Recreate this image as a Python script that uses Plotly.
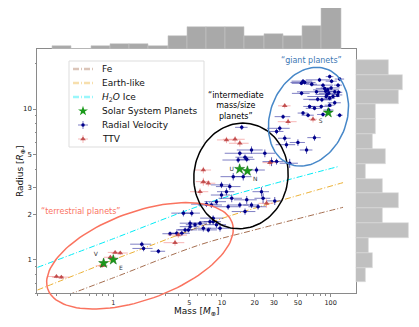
import numpy as np
import plotly.graph_objects as go

W, H = 419, 327          # browser window
OFF = 8                  # default page margin around the plot div
FW, FH = W - OFF, H - OFF
FONT = 'DejaVu Sans'

# --- composition curves (mass [M_earth], radius [R_earth]) ---
fe_mass = [0.2, 1, 6.3, 20, 130]
fe_radius = [0.49, 0.76, 1.26, 1.58, 2.23]
earth_mass = [0.2, 0.5, 1, 2, 5, 10, 20, 50, 130]
earth_radius = [0.63, 0.82, 1.0, 1.21, 1.56, 1.88, 2.20, 2.67, 3.25]
ice_mass = [0.2, 1, 4, 10, 30, 117]
ice_radius = [0.89, 1.38, 2.03, 2.56, 3.2, 4.15]

# --- solar system planets ---
ss_label = ['V', 'E', 'U', 'N', 'S']
ss_mass = [0.815, 1.0, 14.54, 17.15, 95.16]
ss_radius = [0.95, 1.0, 4.0, 3.88, 9.45]

# --- radial velocity planets ---
rv_mass = [55.7, 57.7, 53.8, 98, 121, 85, 88, 94, 96, 91, 98, 92.5, 105, 117, 74, 54, 76, 64, 71, 82,
           98, 55.7, 62, 85, 121, 36.5, 34, 31.8, 37.8, 39.2, 50, 71, 60, 42, 31.8, 101, 90, 109, 83, 109,
           118, 96, 116, 79, 67, 102,
           15.2, 18.7, 14.6, 16.3, 24.8, 28.6, 20.8, 15.7, 12.7, 14.1, 16.9, 9.9, 11.0, 9.9, 12.3, 16.9,
           8.9, 23.1, 23.9, 11.4, 14.6, 8.0, 18.7, 21.5, 11.8, 16.3, 30.6, 7.2, 4.42, 5.27, 8.3, 8.3, 8.9,
           9.6, 5.09, 6.74, 4.91, 7.49, 3.84, 5.09, 5.65, 6.28, 4.58, 4.27, 3.33, 1.83, 1.90, 2.60, 7.76]
rv_radius = [15.3, 15.0, 14.8, 16.4, 15.8, 14.4, 13.7, 13.4, 12.7, 12.1, 11.8, 12.5, 12.1, 14.4, 13.0,
             12.7, 11.6, 10.4, 10.1, 10.4, 10.6, 9.4, 9.1, 9.2, 9.1, 8.9, 7.45, 7.1, 6.4, 5.8, 6.0, 6.46,
             5.35, 4.37, 4.48, 13.8, 13.1, 13.0, 11.5, 11.0, 12.9, 9.85, 12.4, 15.6, 14.6, 15.3,
             7.56, 5.35, 5.09, 4.79, 5.09, 4.48, 3.94, 3.56, 3.56, 4.59, 4.64, 3.14, 2.83, 2.69, 2.56, 2.50,
             2.43, 2.83, 2.56, 2.25, 2.31, 2.31, 2.31, 2.25, 3.06, 2.09, 2.46, 2.34, 2.04, 2.04, 1.89, 1.79,
             1.71, 1.62, 1.66, 1.62, 1.58, 1.58, 1.50, 1.75, 1.71, 1.75, 1.58, 1.50, 1.49, 1.27, 1.19, 1.14,
             1.79]
rv_mass_err = [12, 15, 10, 8, 12, 20, 15, 25, 18, 30, 12, 20, 15, 10, 25, 10, 20, 8, 12, 20,
               10, 6, 8, 10, 8, 6, 8, 5, 5, 8, 8, 10, 8, 8, 5, 20, 15, 15, 20, 15,
               10, 10, 12, 20, 8, 12,
               2, 5, 4, 3, 6, 5, 4, 3, 3, 4, 3, 2, 2, 2, 3, 4,
               2, 4, 4, 3, 3, 2, 3, 4, 3, 4, 5, 2, 1, 1, 2, 1.5, 2,
               2, 1, 1.2, 1, 1.5, 0.6, 1, 1, 1, 0.8, 0.8, 0.5, 0.4, 0.4, 0.4, 1.5]
rv_radius_err = [0.5, 0.5, 0.4, 0.5, 0.5, 0.4, 0.4, 0.4, 0.4, 0.4, 0.4, 0.4, 0.4, 0.4, 0.4,
                 0.4, 0.4, 0.3, 0.3, 0.3, 0.3, 0.3, 0.3, 0.3, 0.3, 0.3, 0.3, 0.3, 0.3, 0.3, 0.3, 0.3,
                 0.3, 0.3, 0.2, 0.4, 0.4, 0.4, 0.4, 0.4, 0.4, 0.3, 0.4, 0.5, 0.5, 0.5,
                 0.3, 0.3, 0.2, 0.2, 0.3, 0.3, 0.2, 0.2, 0.2, 0.2, 0.2, 0.15, 0.15, 0.15, 0.15, 0.15,
                 0.1, 0.2, 0.2, 0.1, 0.1, 0.1, 0.1, 0.1, 0.15, 0.1, 0.15, 0.1, 0.1, 0.1, 0.08, 0.08,
                 0.08, 0.08, 0.08, 0.08, 0.06, 0.06, 0.06, 0.08, 0.06, 0.06, 0.06, 0.06, 0.05, 0.05, 0.05, 0.04,
                 0.08]

# --- TTV planets ---
ttv_mass = [0.30, 0.333, 0.79, 0.94, 1.04, 1.16, 3.7, 3.97, 6.74, 6.74, 7.49, 6.28, 13.2, 14.6, 11.0,
            27.6, 25.7, 37.8, 40.6, 68.8]
ttv_radius = [0.775, 0.768, 0.913, 1.04, 1.12, 1.11, 1.30, 1.46, 3.94, 3.30, 3.22, 2.83, 6.30, 5.93, 6.24,
              4.41, 2.37, 10.5, 8.24, 8.55]
ttv_mass_err = [0.05, 0.06, 0.1, 0.12, 0.15, 0.2, 0.8, 0.8, 1.2, 1.0, 1.2, 1.2, 3, 3, 2, 4, 4, 5, 8, 6]
ttv_radius_err = [0.02, 0.02, 0.03, 0.03, 0.03, 0.03, 0.06, 0.06, 0.2, 0.2, 0.15, 0.15, 0.3, 0.3, 0.3,
                  0.2, 0.15, 0.4, 0.4, 0.4]

# --- marginal histograms (bin edges in log10 units) ---
mass_hist_log_edges = [-0.560, -0.383, -0.206, -0.029, 0.148, 0.325, 0.502, 0.679, 0.856, 1.033,
                       1.210, 1.387, 1.564, 1.741, 1.918, 2.095]
mass_hist_counts = [2, 0, 2, 3, 3, 2, 8, 13, 13, 13, 8, 9, 8, 14, 25]
radius_hist_log_edges = [-0.150, -0.052, 0.047, 0.145, 0.243, 0.342, 0.440, 0.538, 0.637, 0.735,
                         0.833, 0.932, 1.030, 1.128, 1.227, 1.325]
radius_hist_counts = [3, 5, 4, 16, 8, 13, 8, 3, 9, 5, 6, 6, 13, 14, 10]

x_ticks = [1, 5, 10, 20, 30, 50, 100]
y_ticks = [1, 2, 3, 5, 10]
x_minor = [0.2, 0.3, 0.4, 0.6, 0.7, 0.8, 0.9, 2, 3, 4, 6, 7, 8, 9, 40, 60, 70, 80, 90]
y_minor = [0.6, 0.7, 0.8, 0.9, 4, 6, 7, 8, 9, 20]

X_RANGE = [np.log10(0.2), np.log10(170)]
Y_RANGE = [np.log10(0.6), np.log10(25)]
# main axes box in window pixels: left 37.3, right 355.7, top 49, bottom 293.3
XDOM = [(37.3 - OFF) / FW, (355.7 - OFF) / FW]
YDOM = [1 - (293.3 - OFF) / FH, 1 - (49 - OFF) / FH]


def to_px(m, r):
    fx = (np.log10(m) - X_RANGE[0]) / (X_RANGE[1] - X_RANGE[0])
    fy = (np.log10(r) - Y_RANGE[0]) / (Y_RANGE[1] - Y_RANGE[0])
    px = OFF + (XDOM[0] + fx * (XDOM[1] - XDOM[0])) * FW
    py = OFF + (1 - (YDOM[0] + fy * (YDOM[1] - YDOM[0]))) * FH
    return px, py


def ellipse(m, r, a, b, angle):
    cx, cy = to_px(m, r)
    t = np.linspace(0, 2 * np.pi, 120)
    th = np.radians(angle)
    dx = a * np.cos(t) * np.cos(th) - b * np.sin(t) * np.sin(th)
    dy = a * np.cos(t) * np.sin(th) + b * np.sin(t) * np.cos(th)
    return cx + dx, cy - dy


fig = go.Figure()

# composition lines
for xs, ys, col in [(fe_mass, fe_radius, 'rgb(165,110,80)'),
                    (earth_mass, earth_radius, 'rgb(235,175,50)'),
                    (ice_mass, ice_radius, 'rgb(0,235,245)')]:
    fig.add_trace(go.Scatter(x=xs, y=ys, mode='lines', line=dict(color=col, width=1, dash='6px,2px,1px,2px',
                                                                   shape='spline'),
                             showlegend=False, hoverinfo='skip'))

fig.add_trace(go.Scatter(
    x=rv_mass, y=rv_radius, mode='markers',
    marker=dict(size=3.5, color='#00008b'),
    error_x=dict(type='data', array=rv_mass_err, color='rgba(0,0,139,0.5)', thickness=1, width=0),
    error_y=dict(type='data', array=rv_radius_err, color='rgba(0,0,139,0.65)', thickness=1, width=0),
    showlegend=False))

fig.add_trace(go.Scatter(
    x=ttv_mass, y=ttv_radius, mode='markers',
    marker=dict(size=5, color='rgba(185,60,60,0.85)', symbol='triangle-up'),
    error_x=dict(type='data', array=ttv_mass_err, color='rgba(240,120,120,0.55)', thickness=1, width=0),
    error_y=dict(type='data', array=ttv_radius_err, color='rgba(240,120,120,0.6)', thickness=1, width=0),
    showlegend=False))

fig.add_trace(go.Scatter(
    x=ss_mass, y=ss_radius, mode='markers+text', text=ss_label,
    textposition=['top left', 'bottom right', 'middle left', 'bottom right', 'bottom left'],
    textfont=dict(size=6, color='#333', family=FONT),
    marker=dict(size=7.5, color='#1a9a1a', symbol='star', line=dict(width=0.5, color='#0a6a0a')),
    showlegend=False))

# marginal histograms
mc = [(mass_hist_log_edges[i] + mass_hist_log_edges[i + 1]) / 2 for i in range(len(mass_hist_counts))]
mw = [mass_hist_log_edges[i + 1] - mass_hist_log_edges[i] for i in range(len(mass_hist_counts))]
fig.add_trace(go.Bar(x=mc, y=mass_hist_counts, width=mw, xaxis='x2', yaxis='y2',
                     marker=dict(color='darkgray', line=dict(color='rgb(200,200,200)', width=0.6)),
                     showlegend=False))
rc = [(radius_hist_log_edges[i] + radius_hist_log_edges[i + 1]) / 2 for i in range(len(radius_hist_counts))]
rw = [radius_hist_log_edges[i + 1] - radius_hist_log_edges[i] for i in range(len(radius_hist_counts))]
fig.add_trace(go.Bar(y=rc, x=radius_hist_counts, width=rw, orientation='h', xaxis='x3', yaxis='y3',
                     marker=dict(color='silver', line=dict(color='rgb(220,220,220)', width=0.6)),
                     showlegend=False))

# group ellipses (window-pixel frame, not clipped to the axes)
for args, col in [((1.76, 1.063, 98, 44, 20), 'rgb(250,115,95)'),
                  ((14.96, 3.60, 53, 47, 80), 'black'),
                  ((62.5, 8.89, 51, 38, 68), 'rgb(70,135,200)')]:
    ex, ey = ellipse(*args)
    fig.add_trace(go.Scatter(x=ex, y=ey, mode='lines', line=dict(color=col, width=1.5),
                             xaxis='x4', yaxis='y4', showlegend=False, hoverinfo='skip'))

# custom legend
leg_y = [69, 83, 97, 111, 125, 139]
leg_text = ['Fe', 'Earth-like', '<i>H</i><sub>2</sub><i>O</i> Ice', 'Solar System Planets',
            'Radial Velocity', 'TTV']
for yy, col in zip(leg_y[:3], ['rgba(165,110,80,0.4)', 'rgba(235,175,50,0.4)', 'rgba(0,235,245,0.4)']):
    fig.add_trace(go.Scatter(x=[73, 93], y=[yy, yy], mode='lines', xaxis='x4', yaxis='y4',
                             line=dict(color=col, width=2.5, dash='6px,2px,1px,2px'), showlegend=False))
fig.add_trace(go.Scatter(x=[83], y=[leg_y[3]], mode='markers', xaxis='x4', yaxis='y4',
                         marker=dict(size=7.5, color='#1a9a1a', symbol='star'), showlegend=False))
fig.add_trace(go.Scatter(x=[83], y=[leg_y[4]], mode='markers', xaxis='x4', yaxis='y4',
                         marker=dict(size=3.5, color='#00008b'),
                         error_x=dict(array=[5], color='rgba(0,0,139,0.5)', thickness=1, width=0),
                         error_y=dict(array=[4], color='rgba(0,0,139,0.5)', thickness=1, width=0),
                         showlegend=False))
fig.add_trace(go.Scatter(x=[83], y=[leg_y[5]], mode='markers', xaxis='x4', yaxis='y4',
                         marker=dict(size=5, color='rgba(185,60,60,0.85)', symbol='triangle-up'),
                         error_x=dict(array=[5], color='rgba(240,120,120,0.5)', thickness=1, width=0),
                         error_y=dict(array=[4], color='rgba(240,120,120,0.5)', thickness=1, width=0),
                         showlegend=False))

annotations = []
for yy, tx in zip(leg_y, leg_text):
    annotations.append(dict(x=100, y=yy, xref='x4', yref='y4', text=tx, showarrow=False, xanchor='left',
                            font=dict(size=9, color='#111', family=FONT)))
annotations += [
    dict(x=81, y=211, xref='x4', yref='y4', text='\u201cterrestrial planets\u201d', showarrow=False,
         font=dict(size=8, color='rgb(250,115,95)', family=FONT)),
    dict(x=236, y=106, xref='x4', yref='y4', text='\u201cintermediate<br>mass/size<br>planets\u201d',
         showarrow=False, font=dict(size=8, color='black', family=FONT)),
    dict(x=311, y=60, xref='x4', yref='y4', text='\u201cgiant planets\u201d', showarrow=False,
         font=dict(size=8, color='rgb(60,120,180)', family=FONT)),
    # axis titles
    dict(x=196.5, y=311.5, xref='x4', yref='y4', text='Mass [<i>M</i><sub>\u2295</sub>]', showarrow=False,
         font=dict(size=9, color='#111', family=FONT)),
    dict(x=20, y=171, xref='x4', yref='y4', text='Radius [<i>R</i><sub>\u2295</sub>]', showarrow=False,
         textangle=-90, font=dict(size=9, color='#111', family=FONT)),
]

shapes = [dict(type='rect', xref='x4', yref='y4', x0=69, x1=204, y0=61, y1=147, layer='below',
               line=dict(color='#dddddd', width=1), fillcolor='rgba(255,255,255,0.8)')]

axcol = '#8a8a8a'
fig.update_layout(
    width=FW, height=FH, margin=dict(l=0, r=0, t=0, b=0, autoexpand=False),
    paper_bgcolor='white', plot_bgcolor='rgba(0,0,0,0)',
    font=dict(family=FONT, color='#222'),
    bargap=0, showlegend=False,
    xaxis=dict(type='log', range=X_RANGE, domain=XDOM, anchor='y', showline=True, linecolor=axcol,
               mirror=True, ticks='outside', ticklen=3, tickcolor=axcol, tickvals=x_ticks,
               ticktext=[str(v) for v in x_ticks], tickfont=dict(size=6.5), showgrid=False, zeroline=False,
               minor=dict(tickvals=x_minor, ticks='outside', ticklen=1.5, tickcolor=axcol, showgrid=False),
               automargin=False),
    yaxis=dict(type='log', range=Y_RANGE, domain=YDOM, anchor='x', showline=True, linecolor=axcol,
               mirror=True, ticks='outside', ticklen=3, tickcolor=axcol, tickvals=y_ticks,
               ticktext=[str(v) for v in y_ticks], tickfont=dict(size=7), showgrid=False, zeroline=False,
               minor=dict(tickvals=y_minor, ticks='outside', ticklen=1.5, tickcolor=axcol, showgrid=False),
               automargin=False),
    xaxis2=dict(domain=XDOM, range=X_RANGE, anchor='y2', visible=False, automargin=False),
    yaxis2=dict(domain=[YDOM[1], 1.0], range=[0, 24.6], anchor='x2', visible=False, automargin=False),
    xaxis3=dict(domain=[XDOM[1], 1.0], range=[0, 19], anchor='y3', visible=False, automargin=False),
    yaxis3=dict(domain=YDOM, range=Y_RANGE, anchor='x3', visible=False, automargin=False),
    xaxis4=dict(domain=[0, 1], range=[OFF, W], anchor='y4', visible=False, automargin=False),
    yaxis4=dict(domain=[0, 1], range=[H, OFF], anchor='x4', visible=False, automargin=False),
    annotations=annotations, shapes=shapes,
)

fig.write_html("out.html")
